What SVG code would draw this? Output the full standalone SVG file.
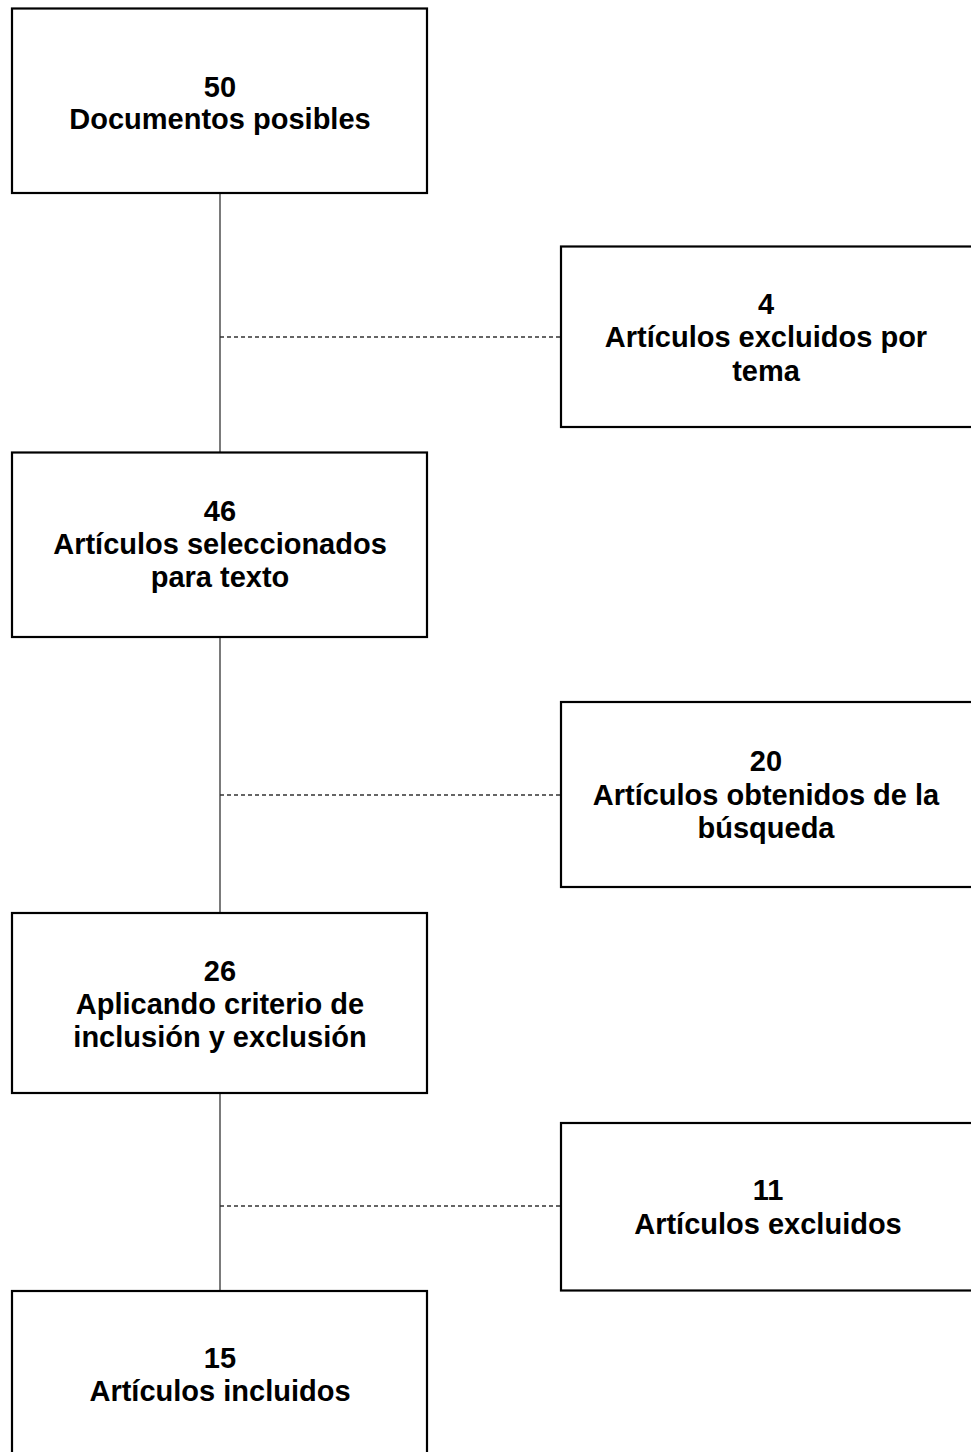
<svg xmlns="http://www.w3.org/2000/svg" width="971" height="1452" viewBox="0 0 971 1452">
<style>
.box{fill:#fff;stroke:#000;stroke-width:2.2}
.t{font-family:"Liberation Sans",Arial,sans-serif;font-weight:bold;font-size:29px;fill:#000;text-anchor:middle}
.v{stroke:#333;stroke-width:1.3;fill:none}
.d{stroke:#333;stroke-width:1.3;stroke-dasharray:4,3;fill:none}
</style>
<rect width="971" height="1452" fill="#fff"/>
<g id="connectors">
<line class="v" x1="220" y1="193" x2="220" y2="452"/>
<line class="v" x1="220" y1="637" x2="220" y2="913"/>
<line class="v" x1="220" y1="1093" x2="220" y2="1291"/>
<line class="d" x1="220" y1="337" x2="561" y2="337"/>
<line class="d" x1="220" y1="795" x2="561" y2="795"/>
<line class="d" x1="220" y1="1206" x2="561" y2="1206"/>
</g>
<g id="n1">
<rect class="box" x="12" y="8.5" width="415" height="184.5"/>
<text class="t" x="220" y="97">50</text>
<text class="t" x="220" y="129">Documentos posibles</text>
</g>
<g id="r1">
<rect class="box" x="561" y="246.5" width="413" height="180.5"/>
<text class="t" x="766" y="314">4</text>
<text class="t" x="766" y="347">Artículos excluidos por</text>
<text class="t" x="766" y="381">tema</text>
</g>
<g id="n2">
<rect class="box" x="12" y="452.5" width="415" height="184.5"/>
<text class="t" x="220" y="521">46</text>
<text class="t" x="220" y="554">Artículos seleccionados</text>
<text class="t" x="220" y="587">para texto</text>
</g>
<g id="r2">
<rect class="box" x="561" y="702" width="413" height="185"/>
<text class="t" x="766" y="771">20</text>
<text class="t" x="766" y="805">Artículos obtenidos de la</text>
<text class="t" x="766" y="838">búsqueda</text>
</g>
<g id="n3">
<rect class="box" x="12" y="913" width="415" height="180"/>
<text class="t" x="220" y="981">26</text>
<text class="t" x="220" y="1014">Aplicando criterio de</text>
<text class="t" x="220" y="1047">inclusión y exclusión</text>
</g>
<g id="r3">
<rect class="box" x="561" y="1123" width="413" height="167.5"/>
<text class="t" x="768" y="1200">11</text>
<text class="t" x="768" y="1234">Artículos excluidos</text>
</g>
<g id="n4">
<rect class="box" x="12" y="1291" width="415" height="175"/>
<text class="t" x="220" y="1368">15</text>
<text class="t" x="220" y="1401">Artículos incluidos</text>
</g>
</svg>
